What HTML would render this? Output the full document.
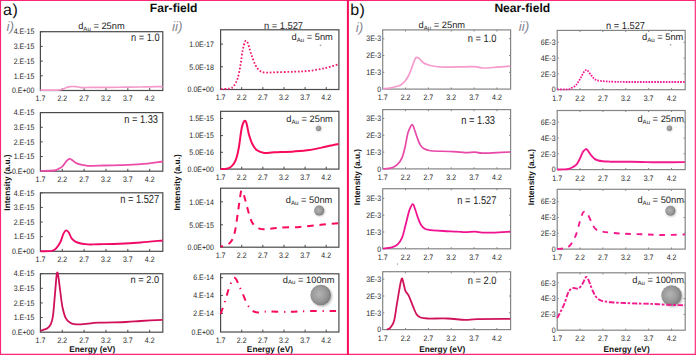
<!DOCTYPE html><html><head><meta charset="utf-8"><style>html,body{margin:0;padding:0;background:#fff;}svg{display:block;text-rendering:geometricPrecision;}</style></head><body>
<svg width="696" height="355" viewBox="0 0 696 355" font-family='"Liberation Sans", sans-serif'>
<defs><radialGradient id="bg" cx="0.42" cy="0.45" r="0.6"><stop offset="0" stop-color="#b4b4b4"/><stop offset="0.6" stop-color="#999"/><stop offset="1" stop-color="#7a7a7a"/></radialGradient><filter id="sh" x="-50%" y="-50%" width="200%" height="200%"><feGaussianBlur stdDeviation="0.8"/></filter></defs>
<rect width="696" height="355" fill="#fff"/>
<text x="3.0" y="14.8" font-size="16" letter-spacing="0.7" fill="#111">a)</text>
<text x="350.3" y="14.8" font-size="16" letter-spacing="0.4" fill="#111">b)</text>
<text x="149.8" y="11.9" font-size="12.1" font-weight="bold" fill="#111">Far-field</text>
<text x="494.4" y="11.9" font-size="12.1" font-weight="bold" fill="#111">Near-field</text>
<text x="6.6" y="30.9" font-size="13.5" font-style="italic" fill="#868692">i)</text>
<text x="172.0" y="30.8" font-size="13.5" font-style="italic" fill="#868692">ii)</text>
<text x="355.7" y="31.6" font-size="13.5" font-style="italic" fill="#868692">i)</text>
<text x="518.8" y="31.2" font-size="13.5" font-style="italic" fill="#868692">ii)</text>
<text transform="translate(78.20 28.80) scale(1 1.000)" font-size="9.3" fill="#1e1e1e" text-anchor="start">d<tspan font-size="6.1" dy="1.8">Au</tspan><tspan dy="-1.8"> = 25nm</tspan></text>
<text transform="translate(418.60 27.90) scale(1 1.000)" font-size="9.3" fill="#1e1e1e" text-anchor="start">d<tspan font-size="6.1" dy="1.8">Au</tspan><tspan dy="-1.8"> = 25nm</tspan></text>
<text transform="translate(264.00 28.50) scale(1 1.070)" font-size="9.3" fill="#1e1e1e" text-anchor="start">n = 1.527</text>
<text transform="translate(606.00 28.70) scale(1 1.080)" font-size="9.3" fill="#1e1e1e" text-anchor="start">n = 1.527</text>
<text x="10.0" y="182.5" font-size="8.3" font-weight="bold" fill="#111" text-anchor="middle" transform="rotate(-90 10.0 182.5)">Intensity (a.u.)</text>
<text x="179.6" y="182.4" font-size="8.3" font-weight="bold" fill="#111" text-anchor="middle" transform="rotate(-90 179.6 182.4)">Intensity (a.u.)</text>
<text x="360.4" y="177.0" font-size="8.3" font-weight="bold" fill="#111" text-anchor="middle" transform="rotate(-90 360.4 177.0)">Intensity (a.u.)</text>
<text x="534.4" y="177.0" font-size="8.3" font-weight="bold" fill="#111" text-anchor="middle" transform="rotate(-90 534.4 177.0)">Intensity (a.u.)</text>
<text x="92.3" y="351.6" font-size="8.3" font-weight="bold" fill="#111" text-anchor="middle">Energy (eV)</text>
<text x="269.9" y="351.6" font-size="8.3" font-weight="bold" fill="#111" text-anchor="middle">Energy (eV)</text>
<text x="442.2" y="351.6" font-size="8.3" font-weight="bold" fill="#111" text-anchor="middle">Energy (eV)</text>
<text x="626.6" y="351.6" font-size="8.3" font-weight="bold" fill="#111" text-anchor="middle">Energy (eV)</text>
<rect x="40.40" y="31.70" width="122.40" height="58.80" fill="none" stroke="#4a4a4a" stroke-width="1.2"/>
<path d="M62.26,90.50v-2.40 M84.11,90.50v-2.40 M105.97,90.50v-2.40 M127.83,90.50v-2.40 M149.69,90.50v-2.40 M40.40,75.80h2.40 M40.40,61.10h2.40 M40.40,46.40h2.40 M40.40,31.70h2.40" stroke="#4a4a4a" stroke-width="1" fill="none"/>
<path d="M40.40,90.10 C42.67,90.10 50.82,90.13 54.00,90.10 C57.18,90.07 58.08,90.05 59.50,89.90 C60.92,89.75 61.42,89.57 62.50,89.20 C63.58,88.83 64.92,88.10 66.00,87.70 C67.08,87.30 68.00,87.00 69.00,86.80 C70.00,86.60 70.83,86.52 72.00,86.50 C73.17,86.48 74.67,86.57 76.00,86.70 C77.33,86.83 78.67,87.15 80.00,87.30 C81.33,87.45 82.33,87.58 84.00,87.60 C85.67,87.62 88.00,87.45 90.00,87.40 C92.00,87.35 92.67,87.32 96.00,87.30 C99.33,87.28 105.17,87.32 110.00,87.30 C114.83,87.28 120.00,87.25 125.00,87.20 C130.00,87.15 135.83,87.07 140.00,87.00 C144.17,86.93 146.22,86.87 150.00,86.80 C153.78,86.73 160.58,86.63 162.70,86.60" fill="none" stroke="#f59acc" stroke-width="1.70" stroke-linejoin="round" stroke-linecap="butt"/>
<text transform="translate(34.30 93.25) scale(1 1.13)" font-size="7.0" fill="#1e1e1e" text-anchor="end">0.E+00</text>
<text transform="translate(34.30 78.55) scale(1 1.13)" font-size="7.0" fill="#1e1e1e" text-anchor="end">1.E-15</text>
<text transform="translate(34.30 63.85) scale(1 1.13)" font-size="7.0" fill="#1e1e1e" text-anchor="end">2.E-15</text>
<text transform="translate(34.30 49.15) scale(1 1.13)" font-size="7.0" fill="#1e1e1e" text-anchor="end">3.E-15</text>
<text transform="translate(34.30 34.45) scale(1 1.13)" font-size="7.0" fill="#1e1e1e" text-anchor="end">4.E-15</text>
<text transform="translate(40.40 101.30) scale(1 1.13)" font-size="7.0" fill="#1e1e1e" text-anchor="middle">1.7</text>
<text transform="translate(62.26 101.30) scale(1 1.13)" font-size="7.0" fill="#1e1e1e" text-anchor="middle">2.2</text>
<text transform="translate(84.11 101.30) scale(1 1.13)" font-size="7.0" fill="#1e1e1e" text-anchor="middle">2.7</text>
<text transform="translate(105.97 101.30) scale(1 1.13)" font-size="7.0" fill="#1e1e1e" text-anchor="middle">3.2</text>
<text transform="translate(127.83 101.30) scale(1 1.13)" font-size="7.0" fill="#1e1e1e" text-anchor="middle">3.7</text>
<text transform="translate(149.69 101.30) scale(1 1.13)" font-size="7.0" fill="#1e1e1e" text-anchor="middle">4.2</text>
<text transform="translate(159.60 40.80) scale(1 1.150)" font-size="9.3" fill="#1e1e1e" text-anchor="end">n = 1.0</text>
<rect x="40.40" y="112.60" width="122.40" height="58.60" fill="none" stroke="#4a4a4a" stroke-width="1.2"/>
<path d="M62.26,171.20v-2.40 M84.11,171.20v-2.40 M105.97,171.20v-2.40 M127.83,171.20v-2.40 M149.69,171.20v-2.40 M40.40,156.55h2.40 M40.40,141.90h2.40 M40.40,127.25h2.40 M40.40,112.60h2.40" stroke="#4a4a4a" stroke-width="1" fill="none"/>
<path d="M40.40,170.90 C42.67,170.83 51.03,170.82 54.00,170.50 C56.97,170.18 56.78,169.70 58.20,169.00 C59.62,168.30 61.12,167.60 62.50,166.30 C63.88,165.00 65.38,162.43 66.50,161.20 C67.62,159.97 68.28,159.10 69.20,158.90 C70.12,158.70 70.65,159.20 72.00,160.00 C73.35,160.80 74.67,162.73 77.30,163.70 C79.93,164.67 84.28,165.48 87.80,165.80 C91.32,166.12 93.12,165.70 98.40,165.60 C103.68,165.50 112.47,165.43 119.50,165.20 C126.53,164.97 133.40,164.82 140.60,164.20 C147.80,163.58 159.02,161.95 162.70,161.50" fill="none" stroke="#ec4ea8" stroke-width="1.80" stroke-linejoin="round" stroke-linecap="butt"/>
<text transform="translate(34.30 173.95) scale(1 1.13)" font-size="7.0" fill="#1e1e1e" text-anchor="end">0.E+00</text>
<text transform="translate(34.30 159.30) scale(1 1.13)" font-size="7.0" fill="#1e1e1e" text-anchor="end">1.E-15</text>
<text transform="translate(34.30 144.65) scale(1 1.13)" font-size="7.0" fill="#1e1e1e" text-anchor="end">2.E-15</text>
<text transform="translate(34.30 130.00) scale(1 1.13)" font-size="7.0" fill="#1e1e1e" text-anchor="end">3.E-15</text>
<text transform="translate(34.30 115.35) scale(1 1.13)" font-size="7.0" fill="#1e1e1e" text-anchor="end">4.E-15</text>
<text transform="translate(40.40 182.00) scale(1 1.13)" font-size="7.0" fill="#1e1e1e" text-anchor="middle">1.7</text>
<text transform="translate(62.26 182.00) scale(1 1.13)" font-size="7.0" fill="#1e1e1e" text-anchor="middle">2.2</text>
<text transform="translate(84.11 182.00) scale(1 1.13)" font-size="7.0" fill="#1e1e1e" text-anchor="middle">2.7</text>
<text transform="translate(105.97 182.00) scale(1 1.13)" font-size="7.0" fill="#1e1e1e" text-anchor="middle">3.2</text>
<text transform="translate(127.83 182.00) scale(1 1.13)" font-size="7.0" fill="#1e1e1e" text-anchor="middle">3.7</text>
<text transform="translate(149.69 182.00) scale(1 1.13)" font-size="7.0" fill="#1e1e1e" text-anchor="middle">4.2</text>
<text transform="translate(158.00 122.70) scale(1 1.220)" font-size="9.3" fill="#1e1e1e" text-anchor="end">n = 1.33</text>
<rect x="40.40" y="192.80" width="122.40" height="58.50" fill="none" stroke="#4a4a4a" stroke-width="1.2"/>
<path d="M62.26,251.30v-2.40 M84.11,251.30v-2.40 M105.97,251.30v-2.40 M127.83,251.30v-2.40 M149.69,251.30v-2.40 M40.40,236.68h2.40 M40.40,222.05h2.40 M40.40,207.43h2.40 M40.40,192.80h2.40" stroke="#4a4a4a" stroke-width="1" fill="none"/>
<path d="M40.40,251.20 C42.32,251.15 49.28,251.37 51.90,250.90 C54.52,250.43 54.68,249.88 56.10,248.40 C57.52,246.92 59.17,244.47 60.40,242.00 C61.63,239.53 62.52,235.53 63.50,233.60 C64.48,231.67 65.42,230.58 66.30,230.40 C67.18,230.22 67.85,231.08 68.80,232.50 C69.75,233.92 70.58,237.23 72.00,238.90 C73.42,240.57 74.67,241.58 77.30,242.50 C79.93,243.42 84.28,244.12 87.80,244.40 C91.32,244.68 93.12,244.32 98.40,244.20 C103.68,244.08 112.47,243.98 119.50,243.70 C126.53,243.42 133.40,243.03 140.60,242.50 C147.80,241.97 159.02,240.83 162.70,240.50" fill="none" stroke="#f00a68" stroke-width="1.90" stroke-linejoin="round" stroke-linecap="butt"/>
<text transform="translate(34.30 254.05) scale(1 1.13)" font-size="7.0" fill="#1e1e1e" text-anchor="end">0.E+00</text>
<text transform="translate(34.30 239.43) scale(1 1.13)" font-size="7.0" fill="#1e1e1e" text-anchor="end">1.E-15</text>
<text transform="translate(34.30 224.80) scale(1 1.13)" font-size="7.0" fill="#1e1e1e" text-anchor="end">2.E-15</text>
<text transform="translate(34.30 210.18) scale(1 1.13)" font-size="7.0" fill="#1e1e1e" text-anchor="end">3.E-15</text>
<text transform="translate(34.30 195.55) scale(1 1.13)" font-size="7.0" fill="#1e1e1e" text-anchor="end">4.E-15</text>
<text transform="translate(40.40 262.10) scale(1 1.13)" font-size="7.0" fill="#1e1e1e" text-anchor="middle">1.7</text>
<text transform="translate(62.26 262.10) scale(1 1.13)" font-size="7.0" fill="#1e1e1e" text-anchor="middle">2.2</text>
<text transform="translate(84.11 262.10) scale(1 1.13)" font-size="7.0" fill="#1e1e1e" text-anchor="middle">2.7</text>
<text transform="translate(105.97 262.10) scale(1 1.13)" font-size="7.0" fill="#1e1e1e" text-anchor="middle">3.2</text>
<text transform="translate(127.83 262.10) scale(1 1.13)" font-size="7.0" fill="#1e1e1e" text-anchor="middle">3.7</text>
<text transform="translate(149.69 262.10) scale(1 1.13)" font-size="7.0" fill="#1e1e1e" text-anchor="middle">4.2</text>
<text transform="translate(159.20 203.00) scale(1 1.260)" font-size="9.3" fill="#1e1e1e" text-anchor="end">n = 1.527</text>
<rect x="40.40" y="273.70" width="122.40" height="58.50" fill="none" stroke="#4a4a4a" stroke-width="1.2"/>
<path d="M62.26,332.20v-2.40 M84.11,332.20v-2.40 M105.97,332.20v-2.40 M127.83,332.20v-2.40 M149.69,332.20v-2.40 M40.40,317.57h2.40 M40.40,302.95h2.40 M40.40,288.32h2.40 M40.40,273.70h2.40" stroke="#4a4a4a" stroke-width="1" fill="none"/>
<path d="M40.40,330.90 C41.08,330.65 43.28,329.88 44.50,329.40 C45.72,328.92 46.65,328.87 47.70,328.00 C48.75,327.13 49.92,326.25 50.80,324.20 C51.68,322.15 52.28,320.98 53.00,315.70 C53.72,310.42 54.47,299.47 55.10,292.50 C55.73,285.53 56.28,276.72 56.80,273.90 C57.32,271.08 57.60,272.50 58.20,275.60 C58.80,278.70 59.68,287.22 60.40,292.50 C61.12,297.78 61.63,303.08 62.50,307.30 C63.37,311.52 64.37,315.27 65.60,317.80 C66.83,320.33 68.48,321.43 69.90,322.50 C71.32,323.57 71.82,323.92 74.10,324.20 C76.38,324.48 79.55,324.45 83.60,324.20 C87.65,323.95 91.35,323.07 98.40,322.70 C105.45,322.33 118.87,322.28 125.90,322.00 C132.93,321.72 134.47,321.37 140.60,321.00 C146.73,320.63 159.02,320.00 162.70,319.80" fill="none" stroke="#d0105a" stroke-width="1.80" stroke-linejoin="round" stroke-linecap="butt"/>
<text transform="translate(34.30 334.95) scale(1 1.13)" font-size="7.0" fill="#1e1e1e" text-anchor="end">0.E+00</text>
<text transform="translate(34.30 320.32) scale(1 1.13)" font-size="7.0" fill="#1e1e1e" text-anchor="end">1.E-15</text>
<text transform="translate(34.30 305.70) scale(1 1.13)" font-size="7.0" fill="#1e1e1e" text-anchor="end">2.E-15</text>
<text transform="translate(34.30 291.07) scale(1 1.13)" font-size="7.0" fill="#1e1e1e" text-anchor="end">3.E-15</text>
<text transform="translate(34.30 276.45) scale(1 1.13)" font-size="7.0" fill="#1e1e1e" text-anchor="end">4.E-15</text>
<text transform="translate(40.40 343.00) scale(1 1.13)" font-size="7.0" fill="#1e1e1e" text-anchor="middle">1.7</text>
<text transform="translate(62.26 343.00) scale(1 1.13)" font-size="7.0" fill="#1e1e1e" text-anchor="middle">2.2</text>
<text transform="translate(84.11 343.00) scale(1 1.13)" font-size="7.0" fill="#1e1e1e" text-anchor="middle">2.7</text>
<text transform="translate(105.97 343.00) scale(1 1.13)" font-size="7.0" fill="#1e1e1e" text-anchor="middle">3.2</text>
<text transform="translate(127.83 343.00) scale(1 1.13)" font-size="7.0" fill="#1e1e1e" text-anchor="middle">3.7</text>
<text transform="translate(149.69 343.00) scale(1 1.13)" font-size="7.0" fill="#1e1e1e" text-anchor="middle">4.2</text>
<text transform="translate(159.20 282.90) scale(1 1.080)" font-size="9.3" fill="#1e1e1e" text-anchor="end">n = 2.0</text>
<rect x="220.60" y="29.80" width="118.30" height="59.70" fill="none" stroke="#4a4a4a" stroke-width="1.2"/>
<path d="M241.72,89.50v-2.40 M262.85,89.50v-2.40 M283.98,89.50v-2.40 M305.10,89.50v-2.40 M326.23,89.50v-2.40 M220.60,66.80h2.40 M220.60,44.10h2.40" stroke="#4a4a4a" stroke-width="1" fill="none"/>
<circle cx="320.5" cy="45.3" r="0.9" fill="#aaa"/>
<path d="M221.00,89.10 C222.47,89.00 227.68,89.00 229.80,88.50 C231.92,88.00 232.38,87.80 233.70,86.10 C235.02,84.40 236.55,81.92 237.70,78.30 C238.85,74.68 239.78,69.02 240.60,64.40 C241.42,59.78 241.88,54.33 242.60,50.60 C243.32,46.87 244.27,43.60 244.90,42.00 C245.53,40.40 245.87,40.68 246.40,41.00 C246.93,41.32 247.27,41.60 248.10,43.90 C248.93,46.20 250.20,51.32 251.40,54.80 C252.60,58.28 253.95,62.18 255.30,64.80 C256.65,67.42 257.88,69.20 259.50,70.50 C261.12,71.80 262.55,72.30 265.00,72.60 C267.45,72.90 269.38,72.45 274.20,72.30 C279.02,72.15 287.98,71.95 293.90,71.70 C299.82,71.45 304.43,71.42 309.70,70.80 C314.97,70.18 320.70,69.07 325.50,68.00 C330.30,66.93 336.33,65.00 338.50,64.40" fill="none" stroke="#f0186c" stroke-width="1.80" stroke-linejoin="round" stroke-dasharray="1.7 1.8" stroke-linecap="butt"/>
<text transform="translate(213.90 92.25) scale(1 1.13)" font-size="7.0" fill="#1e1e1e" text-anchor="end">0.0E+00</text>
<text transform="translate(213.90 69.55) scale(1 1.13)" font-size="7.0" fill="#1e1e1e" text-anchor="end">5.0E-18</text>
<text transform="translate(213.90 46.85) scale(1 1.13)" font-size="7.0" fill="#1e1e1e" text-anchor="end">1.0E-17</text>
<text transform="translate(220.60 100.30) scale(1 1.13)" font-size="7.0" fill="#1e1e1e" text-anchor="middle">1.7</text>
<text transform="translate(241.72 100.30) scale(1 1.13)" font-size="7.0" fill="#1e1e1e" text-anchor="middle">2.2</text>
<text transform="translate(262.85 100.30) scale(1 1.13)" font-size="7.0" fill="#1e1e1e" text-anchor="middle">2.7</text>
<text transform="translate(283.98 100.30) scale(1 1.13)" font-size="7.0" fill="#1e1e1e" text-anchor="middle">3.2</text>
<text transform="translate(305.10 100.30) scale(1 1.13)" font-size="7.0" fill="#1e1e1e" text-anchor="middle">3.7</text>
<text transform="translate(326.23 100.30) scale(1 1.13)" font-size="7.0" fill="#1e1e1e" text-anchor="middle">4.2</text>
<text transform="translate(332.80 40.40) scale(1 1.000)" font-size="9.3" fill="#1e1e1e" text-anchor="end">d<tspan font-size="6.1" dy="1.8">Au</tspan><tspan dy="-1.8"> = 5nm</tspan></text>
<rect x="220.60" y="111.30" width="118.30" height="57.80" fill="none" stroke="#4a4a4a" stroke-width="1.2"/>
<path d="M241.72,169.10v-2.40 M262.85,169.10v-2.40 M283.98,169.10v-2.40 M305.10,169.10v-2.40 M326.23,169.10v-2.40 M220.60,152.30h2.40 M220.60,135.60h2.40 M220.60,118.40h2.40" stroke="#4a4a4a" stroke-width="1" fill="none"/>
<circle cx="318.8" cy="128.7" r="2.6" fill="#777" opacity="0.5" filter="url(#sh)"/>
<circle cx="318.5" cy="128.3" r="2.6" fill="url(#bg)"/>
<path d="M220.60,169.00 C221.63,168.95 224.93,169.18 226.80,168.70 C228.67,168.22 230.32,167.52 231.80,166.10 C233.28,164.68 234.55,163.15 235.70,160.20 C236.85,157.25 237.72,153.65 238.70,148.40 C239.68,143.15 240.67,133.27 241.60,128.70 C242.53,124.13 243.48,121.90 244.30,121.00 C245.12,120.10 245.72,121.00 246.50,123.30 C247.28,125.60 248.05,131.38 249.00,134.80 C249.95,138.22 250.87,141.22 252.20,143.80 C253.53,146.38 254.98,148.78 257.00,150.30 C259.02,151.82 261.43,152.57 264.30,152.90 C267.17,153.23 269.27,152.55 274.20,152.30 C279.13,152.05 287.98,151.78 293.90,151.40 C299.82,151.02 304.43,150.77 309.70,150.00 C314.97,149.23 320.70,147.82 325.50,146.80 C330.30,145.78 336.33,144.38 338.50,143.90" fill="none" stroke="#f80a5c" stroke-width="2.00" stroke-linejoin="round" stroke-linecap="butt"/>
<text transform="translate(213.90 171.85) scale(1 1.13)" font-size="7.0" fill="#1e1e1e" text-anchor="end">0.0E+00</text>
<text transform="translate(213.90 155.05) scale(1 1.13)" font-size="7.0" fill="#1e1e1e" text-anchor="end">5.0E-16</text>
<text transform="translate(213.90 138.35) scale(1 1.13)" font-size="7.0" fill="#1e1e1e" text-anchor="end">1.0E-15</text>
<text transform="translate(213.90 121.15) scale(1 1.13)" font-size="7.0" fill="#1e1e1e" text-anchor="end">1.5E-15</text>
<text transform="translate(220.60 179.90) scale(1 1.13)" font-size="7.0" fill="#1e1e1e" text-anchor="middle">1.7</text>
<text transform="translate(241.72 179.90) scale(1 1.13)" font-size="7.0" fill="#1e1e1e" text-anchor="middle">2.2</text>
<text transform="translate(262.85 179.90) scale(1 1.13)" font-size="7.0" fill="#1e1e1e" text-anchor="middle">2.7</text>
<text transform="translate(283.98 179.90) scale(1 1.13)" font-size="7.0" fill="#1e1e1e" text-anchor="middle">3.2</text>
<text transform="translate(305.10 179.90) scale(1 1.13)" font-size="7.0" fill="#1e1e1e" text-anchor="middle">3.7</text>
<text transform="translate(326.23 179.90) scale(1 1.13)" font-size="7.0" fill="#1e1e1e" text-anchor="middle">4.2</text>
<text transform="translate(332.80 122.10) scale(1 1.000)" font-size="9.3" fill="#1e1e1e" text-anchor="end">d<tspan font-size="6.1" dy="1.8">Au</tspan><tspan dy="-1.8"> = 25nm</tspan></text>
<rect x="220.60" y="188.20" width="118.30" height="59.00" fill="none" stroke="#4a4a4a" stroke-width="1.2"/>
<path d="M241.72,247.20v-2.40 M262.85,247.20v-2.40 M283.98,247.20v-2.40 M305.10,247.20v-2.40 M326.23,247.20v-2.40 M220.60,224.80h2.40 M220.60,201.80h2.40" stroke="#4a4a4a" stroke-width="1" fill="none"/>
<circle cx="319.8" cy="211.3" r="5.0" fill="#777" opacity="0.5" filter="url(#sh)"/>
<circle cx="319.2" cy="210.6" r="5.0" fill="url(#bg)"/>
<path d="M220.60,246.60 C221.78,246.25 225.82,245.55 227.70,244.50 C229.58,243.45 230.67,242.60 231.90,240.30 C233.13,238.00 234.03,235.82 235.10,230.70 C236.17,225.58 237.35,215.95 238.30,209.60 C239.25,203.25 240.22,195.70 240.80,192.60 C241.38,189.50 241.35,190.83 241.80,191.00 C242.25,191.17 242.68,191.20 243.50,193.60 C244.32,196.00 245.63,201.50 246.70,205.40 C247.77,209.30 248.83,213.90 249.90,217.00 C250.97,220.10 251.52,222.07 253.10,224.00 C254.68,225.93 257.47,227.72 259.40,228.60 C261.33,229.48 261.53,229.43 264.70,229.30 C267.87,229.17 272.58,228.20 278.40,227.80 C284.22,227.40 292.55,227.40 299.60,226.90 C306.65,226.40 314.22,225.40 320.70,224.80 C327.18,224.20 335.53,223.55 338.50,223.30" fill="none" stroke="#f80a5c" stroke-width="2.00" stroke-linejoin="round" stroke-dasharray="6.5 5.8" stroke-dashoffset="4.00" stroke-linecap="butt"/>
<text transform="translate(213.90 249.95) scale(1 1.13)" font-size="7.0" fill="#1e1e1e" text-anchor="end">0.0E+00</text>
<text transform="translate(213.90 227.55) scale(1 1.13)" font-size="7.0" fill="#1e1e1e" text-anchor="end">5.0E-15</text>
<text transform="translate(213.90 204.55) scale(1 1.13)" font-size="7.0" fill="#1e1e1e" text-anchor="end">1.0E-14</text>
<text transform="translate(220.60 258.00) scale(1 1.13)" font-size="7.0" fill="#1e1e1e" text-anchor="middle">1.7</text>
<text transform="translate(241.72 258.00) scale(1 1.13)" font-size="7.0" fill="#1e1e1e" text-anchor="middle">2.2</text>
<text transform="translate(262.85 258.00) scale(1 1.13)" font-size="7.0" fill="#1e1e1e" text-anchor="middle">2.7</text>
<text transform="translate(283.98 258.00) scale(1 1.13)" font-size="7.0" fill="#1e1e1e" text-anchor="middle">3.2</text>
<text transform="translate(305.10 258.00) scale(1 1.13)" font-size="7.0" fill="#1e1e1e" text-anchor="middle">3.7</text>
<text transform="translate(326.23 258.00) scale(1 1.13)" font-size="7.0" fill="#1e1e1e" text-anchor="middle">4.2</text>
<text transform="translate(332.30 202.70) scale(1 1.000)" font-size="9.3" fill="#1e1e1e" text-anchor="end">d<tspan font-size="6.1" dy="1.8">Au</tspan><tspan dy="-1.8"> = 50nm</tspan></text>
<rect x="220.60" y="273.80" width="118.30" height="58.20" fill="none" stroke="#4a4a4a" stroke-width="1.2"/>
<path d="M241.72,332.00v-2.40 M262.85,332.00v-2.40 M283.98,332.00v-2.40 M305.10,332.00v-2.40 M326.23,332.00v-2.40 M220.60,313.40h2.40 M220.60,295.40h2.40 M220.60,277.70h2.40" stroke="#4a4a4a" stroke-width="1" fill="none"/>
<circle cx="321.9" cy="296.5" r="10.3" fill="#777" opacity="0.5" filter="url(#sh)"/>
<circle cx="320.7" cy="295.0" r="10.3" fill="url(#bg)"/>
<path d="M220.60,313.90 C220.90,313.08 221.57,311.43 222.40,309.00 C223.23,306.57 224.55,302.67 225.60,299.30 C226.65,295.93 227.82,291.47 228.70,288.80 C229.58,286.13 230.10,285.07 230.90,283.30 C231.70,281.53 232.63,278.88 233.50,278.20 C234.37,277.52 235.13,277.88 236.10,279.20 C237.07,280.52 238.07,283.35 239.30,286.10 C240.53,288.85 242.08,292.52 243.50,295.70 C244.92,298.88 246.20,302.63 247.80,305.20 C249.40,307.77 251.35,309.87 253.10,311.10 C254.85,312.33 255.83,312.53 258.30,312.60 C260.77,312.67 262.78,311.62 267.90,311.50 C273.02,311.38 281.97,311.97 289.00,311.90 C296.03,311.83 301.85,311.23 310.10,311.10 C318.35,310.97 333.77,311.10 338.50,311.10" fill="none" stroke="#f80a5c" stroke-width="2.00" stroke-linejoin="round" stroke-dasharray="6.6 5.8 1.3 5.6" stroke-linecap="butt"/>
<text transform="translate(213.90 334.65) scale(1 1.13)" font-size="7.0" fill="#1e1e1e" text-anchor="end">0.E+00</text>
<text transform="translate(213.90 316.15) scale(1 1.13)" font-size="7.0" fill="#1e1e1e" text-anchor="end">2.E-14</text>
<text transform="translate(213.90 298.15) scale(1 1.13)" font-size="7.0" fill="#1e1e1e" text-anchor="end">4.E-14</text>
<text transform="translate(213.90 280.45) scale(1 1.13)" font-size="7.0" fill="#1e1e1e" text-anchor="end">6.E-14</text>
<text transform="translate(220.60 342.80) scale(1 1.13)" font-size="7.0" fill="#1e1e1e" text-anchor="middle">1.7</text>
<text transform="translate(241.72 342.80) scale(1 1.13)" font-size="7.0" fill="#1e1e1e" text-anchor="middle">2.2</text>
<text transform="translate(262.85 342.80) scale(1 1.13)" font-size="7.0" fill="#1e1e1e" text-anchor="middle">2.7</text>
<text transform="translate(283.98 342.80) scale(1 1.13)" font-size="7.0" fill="#1e1e1e" text-anchor="middle">3.2</text>
<text transform="translate(305.10 342.80) scale(1 1.13)" font-size="7.0" fill="#1e1e1e" text-anchor="middle">3.7</text>
<text transform="translate(326.23 342.80) scale(1 1.13)" font-size="7.0" fill="#1e1e1e" text-anchor="middle">4.2</text>
<text transform="translate(334.50 282.60) scale(1 1.000)" font-size="9.3" fill="#1e1e1e" text-anchor="end">d<tspan font-size="6.1" dy="1.8">Au</tspan><tspan dy="-1.8"> = 100nm</tspan></text>
<rect x="382.70" y="29.90" width="127.90" height="59.20" fill="none" stroke="#858585" stroke-width="1.2"/>
<path d="M405.54,89.10v-1.60 M405.54,29.90v1.60 M428.38,89.10v-1.60 M428.38,29.90v1.60 M451.22,89.10v-1.60 M451.22,29.90v1.60 M474.06,89.10v-1.60 M474.06,29.90v1.60 M496.90,89.10v-1.60 M496.90,29.90v1.60 M382.70,72.30h1.60 M510.60,72.30h-1.60 M382.70,55.50h1.60 M510.60,55.50h-1.60 M382.70,38.70h1.60 M510.60,38.70h-1.60" stroke="#858585" stroke-width="1" fill="none"/>
<path d="M383.00,88.60 C384.18,88.52 387.93,88.43 390.10,88.10 C392.27,87.77 394.23,87.13 396.00,86.60 C397.77,86.07 399.22,85.78 400.70,84.90 C402.18,84.02 403.62,82.78 404.90,81.30 C406.18,79.82 407.32,78.07 408.40,76.00 C409.48,73.93 410.42,71.43 411.40,68.90 C412.38,66.37 413.52,62.70 414.30,60.80 C415.08,58.90 415.40,57.97 416.10,57.50 C416.80,57.03 417.72,57.55 418.50,58.00 C419.28,58.45 419.92,59.37 420.80,60.20 C421.68,61.03 422.62,62.23 423.80,63.00 C424.98,63.77 426.43,64.30 427.90,64.80 C429.37,65.30 430.58,65.67 432.60,66.00 C434.62,66.33 437.53,66.60 440.00,66.80 C442.47,67.00 441.87,67.23 447.40,67.20 C452.93,67.17 467.25,66.47 473.20,66.60 C479.15,66.73 479.13,67.90 483.10,68.00 C487.07,68.10 492.47,67.50 497.00,67.20 C501.53,66.90 508.08,66.37 510.30,66.20" fill="none" stroke="#f59acc" stroke-width="1.70" stroke-linejoin="round" stroke-linecap="butt"/>
<text transform="translate(381.10 91.85) scale(1 1.13)" font-size="7.0" fill="#1e1e1e" text-anchor="end">0</text>
<text transform="translate(381.10 75.05) scale(1 1.13)" font-size="7.0" fill="#1e1e1e" text-anchor="end">1E-3</text>
<text transform="translate(381.10 58.25) scale(1 1.13)" font-size="7.0" fill="#1e1e1e" text-anchor="end">2E-3</text>
<text transform="translate(381.10 41.45) scale(1 1.13)" font-size="7.0" fill="#1e1e1e" text-anchor="end">3E-3</text>
<text transform="translate(382.70 100.30) scale(1 1.13)" font-size="7.0" fill="#1e1e1e" text-anchor="middle">1.7</text>
<text transform="translate(405.54 100.30) scale(1 1.13)" font-size="7.0" fill="#1e1e1e" text-anchor="middle">2.2</text>
<text transform="translate(428.38 100.30) scale(1 1.13)" font-size="7.0" fill="#1e1e1e" text-anchor="middle">2.7</text>
<text transform="translate(451.22 100.30) scale(1 1.13)" font-size="7.0" fill="#1e1e1e" text-anchor="middle">3.2</text>
<text transform="translate(474.06 100.30) scale(1 1.13)" font-size="7.0" fill="#1e1e1e" text-anchor="middle">3.7</text>
<text transform="translate(496.90 100.30) scale(1 1.13)" font-size="7.0" fill="#1e1e1e" text-anchor="middle">4.2</text>
<text transform="translate(496.40 41.50) scale(1 1.160)" font-size="9.3" fill="#1e1e1e" text-anchor="end">n = 1.0</text>
<rect x="382.70" y="109.60" width="127.90" height="59.30" fill="none" stroke="#858585" stroke-width="1.2"/>
<path d="M405.54,168.90v-1.60 M405.54,109.60v1.60 M428.38,168.90v-1.60 M428.38,109.60v1.60 M451.22,168.90v-1.60 M451.22,109.60v1.60 M474.06,168.90v-1.60 M474.06,109.60v1.60 M496.90,168.90v-1.60 M496.90,109.60v1.60 M382.70,152.10h1.60 M510.60,152.10h-1.60 M382.70,135.30h1.60 M510.60,135.30h-1.60 M382.70,118.50h1.60 M510.60,118.50h-1.60" stroke="#858585" stroke-width="1" fill="none"/>
<path d="M383.00,169.00 C384.47,168.82 389.35,168.70 391.80,167.90 C394.25,167.10 395.98,165.92 397.70,164.20 C399.42,162.48 400.88,160.42 402.10,157.60 C403.32,154.78 404.08,151.22 405.00,147.30 C405.92,143.38 406.87,137.15 407.60,134.10 C408.33,131.05 408.62,130.58 409.40,129.00 C410.18,127.42 411.45,124.48 412.30,124.60 C413.15,124.72 413.63,127.38 414.50,129.70 C415.37,132.02 416.52,135.93 417.50,138.50 C418.48,141.07 419.30,143.38 420.40,145.10 C421.50,146.82 422.75,147.93 424.10,148.80 C425.45,149.67 427.03,149.93 428.50,150.30 C429.97,150.67 428.75,150.78 432.90,151.00 C437.05,151.22 448.02,151.33 453.40,151.60 C458.78,151.87 461.57,152.50 465.20,152.60 C468.83,152.70 472.38,152.10 475.20,152.20 C478.02,152.30 478.47,153.13 482.10,153.20 C485.73,153.27 492.30,152.80 497.00,152.60 C501.70,152.40 508.08,152.10 510.30,152.00" fill="none" stroke="#e848a8" stroke-width="1.70" stroke-linejoin="round" stroke-linecap="butt"/>
<text transform="translate(381.10 171.65) scale(1 1.13)" font-size="7.0" fill="#1e1e1e" text-anchor="end">0</text>
<text transform="translate(381.10 154.85) scale(1 1.13)" font-size="7.0" fill="#1e1e1e" text-anchor="end">1E-3</text>
<text transform="translate(381.10 138.05) scale(1 1.13)" font-size="7.0" fill="#1e1e1e" text-anchor="end">2E-3</text>
<text transform="translate(381.10 121.25) scale(1 1.13)" font-size="7.0" fill="#1e1e1e" text-anchor="end">3E-3</text>
<text transform="translate(382.70 180.10) scale(1 1.13)" font-size="7.0" fill="#1e1e1e" text-anchor="middle">1.7</text>
<text transform="translate(405.54 180.10) scale(1 1.13)" font-size="7.0" fill="#1e1e1e" text-anchor="middle">2.2</text>
<text transform="translate(428.38 180.10) scale(1 1.13)" font-size="7.0" fill="#1e1e1e" text-anchor="middle">2.7</text>
<text transform="translate(451.22 180.10) scale(1 1.13)" font-size="7.0" fill="#1e1e1e" text-anchor="middle">3.2</text>
<text transform="translate(474.06 180.10) scale(1 1.13)" font-size="7.0" fill="#1e1e1e" text-anchor="middle">3.7</text>
<text transform="translate(496.90 180.10) scale(1 1.13)" font-size="7.0" fill="#1e1e1e" text-anchor="middle">4.2</text>
<text transform="translate(495.00 124.00) scale(1 1.240)" font-size="9.3" fill="#1e1e1e" text-anchor="end">n = 1.33</text>
<rect x="382.70" y="188.70" width="127.90" height="60.10" fill="none" stroke="#858585" stroke-width="1.2"/>
<path d="M405.54,248.80v-1.60 M405.54,188.70v1.60 M428.38,248.80v-1.60 M428.38,188.70v1.60 M451.22,248.80v-1.60 M451.22,188.70v1.60 M474.06,248.80v-1.60 M474.06,188.70v1.60 M496.90,248.80v-1.60 M496.90,188.70v1.60 M382.70,232.00h1.60 M510.60,232.00h-1.60 M382.70,215.20h1.60 M510.60,215.20h-1.60 M382.70,198.40h1.60 M510.60,198.40h-1.60" stroke="#858585" stroke-width="1" fill="none"/>
<path d="M383.00,248.60 C384.47,248.38 389.35,248.00 391.80,247.30 C394.25,246.60 395.98,246.02 397.70,244.40 C399.42,242.78 400.88,240.45 402.10,237.60 C403.32,234.75 404.03,230.97 405.00,227.30 C405.97,223.63 407.13,218.53 407.90,215.60 C408.67,212.67 408.78,211.60 409.60,209.70 C410.42,207.80 411.85,204.20 412.80,204.20 C413.75,204.20 414.40,207.32 415.30,209.70 C416.20,212.08 417.23,215.93 418.20,218.50 C419.17,221.07 420.00,223.38 421.10,225.10 C422.20,226.82 423.57,228.03 424.80,228.80 C426.03,229.57 427.15,229.45 428.50,229.70 C429.85,229.95 430.42,230.08 432.90,230.30 C435.38,230.52 439.33,230.78 443.40,231.00 C447.47,231.22 453.67,231.40 457.30,231.60 C460.93,231.80 462.22,232.20 465.20,232.20 C468.18,232.20 472.38,231.53 475.20,231.60 C478.02,231.67 479.13,232.43 482.10,232.60 C485.07,232.77 488.30,232.77 493.00,232.60 C497.70,232.43 507.42,231.77 510.30,231.60" fill="none" stroke="#f01290" stroke-width="1.80" stroke-linejoin="round" stroke-linecap="butt"/>
<text transform="translate(381.10 251.55) scale(1 1.13)" font-size="7.0" fill="#1e1e1e" text-anchor="end">0</text>
<text transform="translate(381.10 234.75) scale(1 1.13)" font-size="7.0" fill="#1e1e1e" text-anchor="end">1E-3</text>
<text transform="translate(381.10 217.95) scale(1 1.13)" font-size="7.0" fill="#1e1e1e" text-anchor="end">2E-3</text>
<text transform="translate(381.10 201.15) scale(1 1.13)" font-size="7.0" fill="#1e1e1e" text-anchor="end">3E-3</text>
<text transform="translate(382.70 260.00) scale(1 1.13)" font-size="7.0" fill="#1e1e1e" text-anchor="middle">1.7</text>
<text transform="translate(405.54 260.00) scale(1 1.13)" font-size="7.0" fill="#1e1e1e" text-anchor="middle">2.2</text>
<text transform="translate(428.38 260.00) scale(1 1.13)" font-size="7.0" fill="#1e1e1e" text-anchor="middle">2.7</text>
<text transform="translate(451.22 260.00) scale(1 1.13)" font-size="7.0" fill="#1e1e1e" text-anchor="middle">3.2</text>
<text transform="translate(474.06 260.00) scale(1 1.13)" font-size="7.0" fill="#1e1e1e" text-anchor="middle">3.7</text>
<text transform="translate(496.90 260.00) scale(1 1.13)" font-size="7.0" fill="#1e1e1e" text-anchor="middle">4.2</text>
<text transform="translate(496.40 203.90) scale(1 1.200)" font-size="9.3" fill="#1e1e1e" text-anchor="end">n = 1.527</text>
<rect x="382.70" y="271.70" width="127.90" height="57.90" fill="none" stroke="#858585" stroke-width="1.2"/>
<path d="M405.54,329.60v-1.60 M405.54,271.70v1.60 M428.38,329.60v-1.60 M428.38,271.70v1.60 M451.22,329.60v-1.60 M451.22,271.70v1.60 M474.06,329.60v-1.60 M474.06,271.70v1.60 M496.90,329.60v-1.60 M496.90,271.70v1.60 M382.70,312.80h1.60 M510.60,312.80h-1.60 M382.70,296.00h1.60 M510.60,296.00h-1.60 M382.70,279.20h1.60 M510.60,279.20h-1.60" stroke="#858585" stroke-width="1" fill="none"/>
<path d="M386.90,329.40 C387.40,329.18 388.73,329.42 389.90,328.10 C391.07,326.78 392.75,325.40 393.90,321.50 C395.05,317.60 395.82,310.48 396.80,304.70 C397.78,298.92 398.97,291.17 399.80,286.80 C400.63,282.43 401.20,279.17 401.80,278.50 C402.40,277.83 402.80,280.75 403.40,282.80 C404.00,284.85 404.52,288.65 405.40,290.80 C406.28,292.95 407.48,293.23 408.70,295.70 C409.92,298.17 411.37,302.45 412.70,305.60 C414.03,308.75 415.38,312.62 416.70,314.60 C418.02,316.58 418.78,316.85 420.60,317.50 C422.42,318.15 423.13,318.33 427.60,318.50 C432.07,318.67 441.13,318.27 447.40,318.50 C453.67,318.73 460.25,319.80 465.20,319.90 C470.15,320.00 469.58,319.27 477.10,319.10 C484.62,318.93 504.77,318.93 510.30,318.90" fill="none" stroke="#d0145c" stroke-width="1.80" stroke-linejoin="round" stroke-linecap="butt"/>
<text transform="translate(381.10 332.35) scale(1 1.13)" font-size="7.0" fill="#1e1e1e" text-anchor="end">0</text>
<text transform="translate(381.10 315.55) scale(1 1.13)" font-size="7.0" fill="#1e1e1e" text-anchor="end">1E-3</text>
<text transform="translate(381.10 298.75) scale(1 1.13)" font-size="7.0" fill="#1e1e1e" text-anchor="end">2E-3</text>
<text transform="translate(381.10 281.95) scale(1 1.13)" font-size="7.0" fill="#1e1e1e" text-anchor="end">3E-3</text>
<text transform="translate(382.70 340.80) scale(1 1.13)" font-size="7.0" fill="#1e1e1e" text-anchor="middle">1.7</text>
<text transform="translate(405.54 340.80) scale(1 1.13)" font-size="7.0" fill="#1e1e1e" text-anchor="middle">2.2</text>
<text transform="translate(428.38 340.80) scale(1 1.13)" font-size="7.0" fill="#1e1e1e" text-anchor="middle">2.7</text>
<text transform="translate(451.22 340.80) scale(1 1.13)" font-size="7.0" fill="#1e1e1e" text-anchor="middle">3.2</text>
<text transform="translate(474.06 340.80) scale(1 1.13)" font-size="7.0" fill="#1e1e1e" text-anchor="middle">3.7</text>
<text transform="translate(496.90 340.80) scale(1 1.13)" font-size="7.0" fill="#1e1e1e" text-anchor="middle">4.2</text>
<text transform="translate(496.40 284.30) scale(1 1.150)" font-size="9.3" fill="#1e1e1e" text-anchor="end">n = 2.0</text>
<rect x="557.20" y="30.40" width="128.00" height="59.30" fill="none" stroke="#858585" stroke-width="1.2"/>
<path d="M580.06,89.70v-1.60 M580.06,30.40v1.60 M602.91,89.70v-1.60 M602.91,30.40v1.60 M625.77,89.70v-1.60 M625.77,30.40v1.60 M648.63,89.70v-1.60 M648.63,30.40v1.60 M671.49,89.70v-1.60 M671.49,30.40v1.60 M557.20,73.90h1.60 M685.20,73.90h-1.60 M557.20,58.10h1.60 M685.20,58.10h-1.60 M557.20,42.30h1.60 M685.20,42.30h-1.60" stroke="#858585" stroke-width="1" fill="none"/>
<circle cx="670.6" cy="44.8" r="0.9" fill="#aaa"/>
<path d="M557.20,89.40 C558.50,89.40 562.97,89.43 565.00,89.40 C567.03,89.37 568.28,89.45 569.40,89.20 C570.52,88.95 570.87,88.33 571.70,87.90 C572.53,87.47 573.58,87.17 574.40,86.60 C575.22,86.03 575.97,85.25 576.60,84.50 C577.23,83.75 577.67,82.95 578.20,82.10 C578.73,81.25 579.32,80.23 579.80,79.40 C580.28,78.57 580.65,77.93 581.10,77.10 C581.55,76.27 582.05,75.22 582.50,74.40 C582.95,73.58 583.28,72.90 583.80,72.20 C584.32,71.50 585.02,70.53 585.60,70.20 C586.18,69.87 586.77,69.87 587.30,70.20 C587.83,70.53 588.25,71.50 588.80,72.20 C589.35,72.90 590.00,73.65 590.60,74.40 C591.20,75.15 591.80,75.98 592.40,76.70 C593.00,77.42 593.45,78.10 594.20,78.70 C594.95,79.30 595.93,79.93 596.90,80.30 C597.87,80.67 598.57,80.72 600.00,80.90 C601.43,81.08 603.08,81.25 605.50,81.40 C607.92,81.55 610.20,81.70 614.50,81.80 C618.80,81.90 619.57,81.97 631.30,82.00 C643.03,82.03 675.97,82.00 684.90,82.00" fill="none" stroke="#f2209a" stroke-width="1.80" stroke-linejoin="round" stroke-dasharray="1.7 1.15" stroke-linecap="butt"/>
<text transform="translate(555.60 92.45) scale(1 1.13)" font-size="7.0" fill="#1e1e1e" text-anchor="end">0</text>
<text transform="translate(555.60 76.65) scale(1 1.13)" font-size="7.0" fill="#1e1e1e" text-anchor="end">2E-3</text>
<text transform="translate(555.60 60.85) scale(1 1.13)" font-size="7.0" fill="#1e1e1e" text-anchor="end">4E-3</text>
<text transform="translate(555.60 45.05) scale(1 1.13)" font-size="7.0" fill="#1e1e1e" text-anchor="end">6E-3</text>
<text transform="translate(557.20 100.90) scale(1 1.13)" font-size="7.0" fill="#1e1e1e" text-anchor="middle">1.7</text>
<text transform="translate(580.06 100.90) scale(1 1.13)" font-size="7.0" fill="#1e1e1e" text-anchor="middle">2.2</text>
<text transform="translate(602.91 100.90) scale(1 1.13)" font-size="7.0" fill="#1e1e1e" text-anchor="middle">2.7</text>
<text transform="translate(625.77 100.90) scale(1 1.13)" font-size="7.0" fill="#1e1e1e" text-anchor="middle">3.2</text>
<text transform="translate(648.63 100.90) scale(1 1.13)" font-size="7.0" fill="#1e1e1e" text-anchor="middle">3.7</text>
<text transform="translate(671.49 100.90) scale(1 1.13)" font-size="7.0" fill="#1e1e1e" text-anchor="middle">4.2</text>
<text transform="translate(683.30 40.40) scale(1 1.000)" font-size="9.3" fill="#1e1e1e" text-anchor="end">d<tspan font-size="6.1" dy="1.8">Au</tspan><tspan dy="-1.8"> = 5nm</tspan></text>
<rect x="557.20" y="110.50" width="128.00" height="59.10" fill="none" stroke="#858585" stroke-width="1.2"/>
<path d="M580.06,169.60v-1.60 M580.06,110.50v1.60 M602.91,169.60v-1.60 M602.91,110.50v1.60 M625.77,169.60v-1.60 M625.77,110.50v1.60 M648.63,169.60v-1.60 M648.63,110.50v1.60 M671.49,169.60v-1.60 M671.49,110.50v1.60 M557.20,153.80h1.60 M685.20,153.80h-1.60 M557.20,138.00h1.60 M685.20,138.00h-1.60 M557.20,122.20h1.60 M685.20,122.20h-1.60" stroke="#858585" stroke-width="1" fill="none"/>
<circle cx="669.7" cy="128.6" r="2.6" fill="#777" opacity="0.5" filter="url(#sh)"/>
<circle cx="669.4" cy="128.2" r="2.6" fill="url(#bg)"/>
<path d="M557.20,169.50 C558.17,169.48 561.12,169.48 563.00,169.40 C564.88,169.32 566.92,169.35 568.50,169.00 C570.08,168.65 571.15,168.08 572.50,167.30 C573.85,166.52 575.38,165.70 576.60,164.30 C577.82,162.90 578.82,160.85 579.80,158.90 C580.78,156.95 581.83,153.95 582.50,152.60 C583.17,151.25 583.13,151.38 583.80,150.80 C584.47,150.22 585.60,148.80 586.50,149.10 C587.40,149.40 588.30,151.42 589.20,152.60 C590.10,153.78 591.00,155.15 591.90,156.20 C592.80,157.25 593.55,158.18 594.60,158.90 C595.65,159.62 596.85,160.12 598.20,160.50 C599.55,160.88 600.88,161.02 602.70,161.20 C604.52,161.38 607.13,161.50 609.10,161.60 C611.07,161.70 610.80,161.77 614.50,161.80 C618.20,161.83 625.85,161.75 631.30,161.80 C636.75,161.85 642.23,162.02 647.20,162.10 C652.17,162.18 654.82,162.30 661.10,162.30 C667.38,162.30 680.93,162.13 684.90,162.10" fill="none" stroke="#f21a8c" stroke-width="1.90" stroke-linejoin="round" stroke-linecap="butt"/>
<text transform="translate(555.60 172.35) scale(1 1.13)" font-size="7.0" fill="#1e1e1e" text-anchor="end">0</text>
<text transform="translate(555.60 156.55) scale(1 1.13)" font-size="7.0" fill="#1e1e1e" text-anchor="end">2E-3</text>
<text transform="translate(555.60 140.75) scale(1 1.13)" font-size="7.0" fill="#1e1e1e" text-anchor="end">4E-3</text>
<text transform="translate(555.60 124.95) scale(1 1.13)" font-size="7.0" fill="#1e1e1e" text-anchor="end">6E-3</text>
<text transform="translate(557.20 180.80) scale(1 1.13)" font-size="7.0" fill="#1e1e1e" text-anchor="middle">1.7</text>
<text transform="translate(580.06 180.80) scale(1 1.13)" font-size="7.0" fill="#1e1e1e" text-anchor="middle">2.2</text>
<text transform="translate(602.91 180.80) scale(1 1.13)" font-size="7.0" fill="#1e1e1e" text-anchor="middle">2.7</text>
<text transform="translate(625.77 180.80) scale(1 1.13)" font-size="7.0" fill="#1e1e1e" text-anchor="middle">3.2</text>
<text transform="translate(648.63 180.80) scale(1 1.13)" font-size="7.0" fill="#1e1e1e" text-anchor="middle">3.7</text>
<text transform="translate(671.49 180.80) scale(1 1.13)" font-size="7.0" fill="#1e1e1e" text-anchor="middle">4.2</text>
<text transform="translate(683.90 122.00) scale(1 1.000)" font-size="9.3" fill="#1e1e1e" text-anchor="end">d<tspan font-size="6.1" dy="1.8">Au</tspan><tspan dy="-1.8"> = 25nm</tspan></text>
<rect x="557.20" y="189.30" width="128.00" height="59.80" fill="none" stroke="#858585" stroke-width="1.2"/>
<path d="M580.06,249.10v-1.60 M580.06,189.30v1.60 M602.91,249.10v-1.60 M602.91,189.30v1.60 M625.77,249.10v-1.60 M625.77,189.30v1.60 M648.63,249.10v-1.60 M648.63,189.30v1.60 M671.49,249.10v-1.60 M671.49,189.30v1.60 M557.20,233.30h1.60 M685.20,233.30h-1.60 M557.20,217.50h1.60 M685.20,217.50h-1.60 M557.20,201.70h1.60 M685.20,201.70h-1.60" stroke="#858585" stroke-width="1" fill="none"/>
<circle cx="671.0" cy="211.6" r="5.0" fill="#777" opacity="0.5" filter="url(#sh)"/>
<circle cx="670.4" cy="210.8" r="5.0" fill="url(#bg)"/>
<path d="M557.20,249.00 C558.32,248.90 561.95,248.82 563.90,248.40 C565.85,247.98 567.42,247.65 568.90,246.50 C570.38,245.35 571.48,243.82 572.80,241.50 C574.12,239.18 575.63,235.90 576.80,232.60 C577.97,229.30 578.82,224.93 579.80,221.70 C580.78,218.47 581.88,214.88 582.70,213.20 C583.52,211.52 583.87,211.47 584.70,211.60 C585.53,211.73 586.53,212.15 587.70,214.00 C588.87,215.85 590.38,220.20 591.70,222.70 C593.02,225.20 593.78,227.52 595.60,229.00 C597.42,230.48 598.30,230.83 602.60,231.60 C606.90,232.37 614.97,233.17 621.40,233.60 C627.83,234.03 634.58,233.97 641.20,234.20 C647.82,234.43 653.82,234.93 661.10,235.00 C668.38,235.07 680.93,234.67 684.90,234.60" fill="none" stroke="#f21a8c" stroke-width="1.90" stroke-linejoin="round" stroke-dasharray="5.7 5.7" stroke-linecap="butt"/>
<text transform="translate(555.60 251.85) scale(1 1.13)" font-size="7.0" fill="#1e1e1e" text-anchor="end">0</text>
<text transform="translate(555.60 236.05) scale(1 1.13)" font-size="7.0" fill="#1e1e1e" text-anchor="end">2E-3</text>
<text transform="translate(555.60 220.25) scale(1 1.13)" font-size="7.0" fill="#1e1e1e" text-anchor="end">4E-3</text>
<text transform="translate(555.60 204.45) scale(1 1.13)" font-size="7.0" fill="#1e1e1e" text-anchor="end">6E-3</text>
<text transform="translate(557.20 260.30) scale(1 1.13)" font-size="7.0" fill="#1e1e1e" text-anchor="middle">1.7</text>
<text transform="translate(580.06 260.30) scale(1 1.13)" font-size="7.0" fill="#1e1e1e" text-anchor="middle">2.2</text>
<text transform="translate(602.91 260.30) scale(1 1.13)" font-size="7.0" fill="#1e1e1e" text-anchor="middle">2.7</text>
<text transform="translate(625.77 260.30) scale(1 1.13)" font-size="7.0" fill="#1e1e1e" text-anchor="middle">3.2</text>
<text transform="translate(648.63 260.30) scale(1 1.13)" font-size="7.0" fill="#1e1e1e" text-anchor="middle">3.7</text>
<text transform="translate(671.49 260.30) scale(1 1.13)" font-size="7.0" fill="#1e1e1e" text-anchor="middle">4.2</text>
<text transform="translate(683.90 203.10) scale(1 1.000)" font-size="9.3" fill="#1e1e1e" text-anchor="end">d<tspan font-size="6.1" dy="1.8">Au</tspan><tspan dy="-1.8"> = 50nm</tspan></text>
<rect x="557.20" y="272.80" width="128.00" height="57.40" fill="none" stroke="#858585" stroke-width="1.2"/>
<path d="M580.06,330.20v-1.60 M580.06,272.80v1.60 M602.91,330.20v-1.60 M602.91,272.80v1.60 M625.77,330.20v-1.60 M625.77,272.80v1.60 M648.63,330.20v-1.60 M648.63,272.80v1.60 M671.49,330.20v-1.60 M671.49,272.80v1.60 M557.20,314.40h1.60 M685.20,314.40h-1.60 M557.20,298.60h1.60 M685.20,298.60h-1.60 M557.20,282.80h1.60 M685.20,282.80h-1.60" stroke="#858585" stroke-width="1" fill="none"/>
<circle cx="672.7" cy="297.0" r="10.2" fill="#777" opacity="0.5" filter="url(#sh)"/>
<circle cx="671.5" cy="295.5" r="10.2" fill="url(#bg)"/>
<path d="M557.20,318.10 C557.82,316.95 559.62,313.83 560.90,311.20 C562.18,308.57 563.73,305.27 564.90,302.30 C566.07,299.33 566.92,295.62 567.90,293.40 C568.88,291.18 569.82,289.90 570.80,289.00 C571.78,288.10 572.47,288.10 573.80,288.00 C575.13,287.90 577.32,289.17 578.80,288.40 C580.28,287.63 581.48,285.28 582.70,283.40 C583.92,281.52 585.10,277.58 586.10,277.10 C587.10,276.62 587.77,278.62 588.70,280.50 C589.63,282.38 590.55,285.77 591.70,288.40 C592.85,291.03 594.12,294.32 595.60,296.30 C597.08,298.28 597.95,299.30 600.60,300.30 C603.25,301.30 606.38,301.80 611.50,302.30 C616.62,302.80 624.70,303.03 631.30,303.30 C637.90,303.57 644.48,303.63 651.10,303.90 C657.72,304.17 665.37,304.67 671.00,304.90 C676.63,305.13 682.58,305.23 684.90,305.30" fill="none" stroke="#f21a8c" stroke-width="1.90" stroke-linejoin="round" stroke-dasharray="5.4 1.6 2.6 1.8" stroke-linecap="butt"/>
<text transform="translate(555.60 332.95) scale(1 1.13)" font-size="7.0" fill="#1e1e1e" text-anchor="end">0</text>
<text transform="translate(555.60 317.15) scale(1 1.13)" font-size="7.0" fill="#1e1e1e" text-anchor="end">2E-3</text>
<text transform="translate(555.60 301.35) scale(1 1.13)" font-size="7.0" fill="#1e1e1e" text-anchor="end">4E-3</text>
<text transform="translate(555.60 285.55) scale(1 1.13)" font-size="7.0" fill="#1e1e1e" text-anchor="end">6E-3</text>
<text transform="translate(557.20 341.40) scale(1 1.13)" font-size="7.0" fill="#1e1e1e" text-anchor="middle">1.7</text>
<text transform="translate(580.06 341.40) scale(1 1.13)" font-size="7.0" fill="#1e1e1e" text-anchor="middle">2.2</text>
<text transform="translate(602.91 341.40) scale(1 1.13)" font-size="7.0" fill="#1e1e1e" text-anchor="middle">2.7</text>
<text transform="translate(625.77 341.40) scale(1 1.13)" font-size="7.0" fill="#1e1e1e" text-anchor="middle">3.2</text>
<text transform="translate(648.63 341.40) scale(1 1.13)" font-size="7.0" fill="#1e1e1e" text-anchor="middle">3.7</text>
<text transform="translate(671.49 341.40) scale(1 1.13)" font-size="7.0" fill="#1e1e1e" text-anchor="middle">4.2</text>
<text transform="translate(683.90 282.80) scale(1 1.000)" font-size="9.3" fill="#1e1e1e" text-anchor="end">d<tspan font-size="6.1" dy="1.8">Au</tspan><tspan dy="-1.8"> = 100nm</tspan></text>
<rect x="396.9" y="263.4" width="1.1" height="1.3" fill="#999"/>
<path d="M0.5,0V355 M0,0.5H696 M695.3,0V355 M0,354.4H696" fill="none" stroke="#fb2676" stroke-width="1.15"/>
<path d="M347.9,0V355" fill="none" stroke="#f70c58" stroke-width="2"/>
</svg></body></html>
